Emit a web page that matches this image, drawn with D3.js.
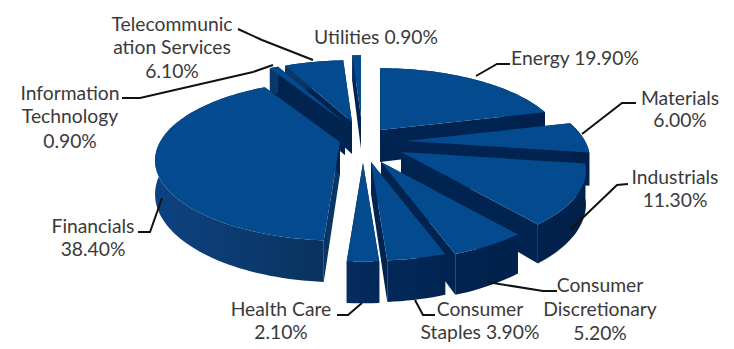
<!DOCTYPE html>
<html>
<head>
<meta charset="utf-8">
<script src="https://cdn.jsdelivr.net/npm/d3@7"></script>
<style>
  html, body { margin: 0; padding: 0; background: #fff; }
  svg { display: block; }
  text { font-family: Lato, "Open Sans", sans-serif; font-size: 19.3px; fill: #3a3a3a; }
</style>
</head>
<body>
<svg id="chart" width="734" height="349"></svg>
<script>
// Sector weights, clockwise from twelve o'clock.
const sectors = ["Energy", "Materials", "Industrials", "Consumer Discretionary", "Consumer Staples",
  "Health Care", "Financials", "Information Technology", "Telecommunication Services", "Utilities"];
const weights = [19.9, 6.0, 11.3, 5.2, 3.9, 2.1, 38.4, 0.9, 6.1, 0.9];

// How far each wedge is pulled away from the pie centre, in pixels.
const pullX = [15, 40, 36, 16, 6, -2, -25, -20, -13, -4];
const pullY = [-15, -4, 7, 17, 17, 18, -3, -22, -23, -28];

// Label text lines (the percentage is appended from the weight), anchor and baselines.
const labelLines = [
  ["Energy {v}"], ["Materials", "{v}"], ["Industrials", "{v}"],
  ["Consumer", "Discretionary", "{v}"], ["Consumer", "Staples {v}"],
  ["Health Care", "{v}"], ["Financials", "{v}"], ["Information", "Technology", "{v}"],
  ["Telecommunic", "ation Services", "{v}"], ["Utilities {v}"]
];
const labelX = [575, 680, 675, 600, 480, 281, 93, 70, 172, 376];
const labelY = [
  [65], [105, 127], [184, 207], [292, 316, 340], [316, 339],
  [316, 339], [233, 256], [100, 123, 148], [31, 54, 78], [44]
];
const leaders = [
  [[476, 76], [497, 64], [510, 64]],
  [[582, 134], [622, 103], [636, 103]],
  [[570, 230], [617, 185], [628, 184]],
  [[487, 282], [543, 291], [557, 291]],
  [[415, 300], [423, 315], [435, 315]],
  [[362, 303], [348, 315], [337, 315]],
  [[162, 198], [150, 232], [138, 232]],
  [[273, 65], [253, 72], [140, 98], [122, 98]],
  [[238, 29], [262, 40], [313, 60]],
  []
];

const svg = d3.select("#chart");
const cx = 365, cy = 145;
const radius = 180, flatten = 76 / 180, tilt = 0.23, depth = 32;

const colors = { top: "#034a8e", cut: "#01234f", litCut: "#0a3563" };

const defs = svg.append("defs");
const rim = defs.append("linearGradient").attr("id", "rim")
  .attr("gradientUnits", "userSpaceOnUse")
  .attr("x1", 150).attr("x2", 590).attr("y1", 0).attr("y2", 0);
rim.append("stop").attr("offset", 0).attr("stop-color", "#0e4282");
rim.append("stop").attr("offset", 0.35).attr("stop-color", "#0a3563");
rim.append("stop").attr("offset", 0.5).attr("stop-color", "#03295b");
rim.append("stop").attr("offset", 0.7).attr("stop-color", "#01234f");
rim.append("stop").attr("offset", 1).attr("stop-color", "#01204a");

// Perspective projection of a disc point at polar (angle, r) and height level z.
function project(angle, r, z, i) {
  const X = Math.sin(angle) * r;
  const Y = -Math.cos(angle) * r;
  const s = 1 / (1 - tilt * Y / radius);
  return [cx + X * s + pullX[i], cy + (Y * flatten + z) * s + pullY[i]];
}

const pieAngles = d3.pie().sort(null).value(d => d)(weights);
const line = d3.line();

function arcAngles(a0, a1) {
  const n = Math.max(2, Math.ceil((a1 - a0) / 0.03));
  return d3.range(n + 1).map(j => a0 + (a1 - a0) * j / n);
}

// Back wedges are painted first so nearer ones overlap them.
const order = pieAngles.map((d, i) => ({ i, a0: d.startAngle, a1: d.endAngle }))
  .sort((p, q) => Math.cos((q.a0 + q.a1) / 2) - Math.cos((p.a0 + p.a1) / 2));

const wedges = svg.append("g").selectAll("g").data(order).join("g");

wedges.each(function ({ i, a0, a1 }) {
  const g = d3.select(this);
  const angles = arcAngles(a0, a1);
  const apexTop = project(0, 0, 0, i), apexBot = project(0, 0, depth, i);
  const cut = a => [apexTop, project(a, radius, 0, i), project(a, radius, depth, i), apexBot];

  // The largest wedge's front cut face catches the light.
  const startFill = sectors[i] === "Financials" ? colors.litCut : colors.cut;
  g.append("path").attr("d", line(cut(a0)) + "Z").attr("fill", startFill);
  g.append("path").attr("d", line(cut(a1)) + "Z").attr("fill", colors.cut);

  const outer = angles.map(a => project(a, radius, 0, i))
    .concat(angles.slice().reverse().map(a => project(a, radius, depth, i)));
  g.append("path").attr("d", line(outer) + "Z").attr("fill", "url(#rim)");

  const top = [apexTop].concat(angles.map(a => project(a, radius, 0, i)));
  g.append("path").attr("d", line(top) + "Z").attr("fill", colors.top);
});

// Leader lines run from each wedge out to its label.
svg.append("g").selectAll("path").data(leaders.filter(l => l.length)).join("path")
  .attr("d", line).attr("fill", "none").attr("stroke", "#111").attr("stroke-width", 2);

const labels = svg.append("g").selectAll("text").data(sectors).join("text")
  .attr("text-anchor", "middle");
labels.each(function (name, i) {
  const pct = weights[i].toFixed(2) + "%";
  d3.select(this).selectAll("tspan").data(labelLines[i]).join("tspan")
    .attr("x", labelX[i])
    .attr("y", (d, j) => labelY[i][j])
    .text(d => d.replace("{v}", pct));
});
</script>
</body>
</html>
